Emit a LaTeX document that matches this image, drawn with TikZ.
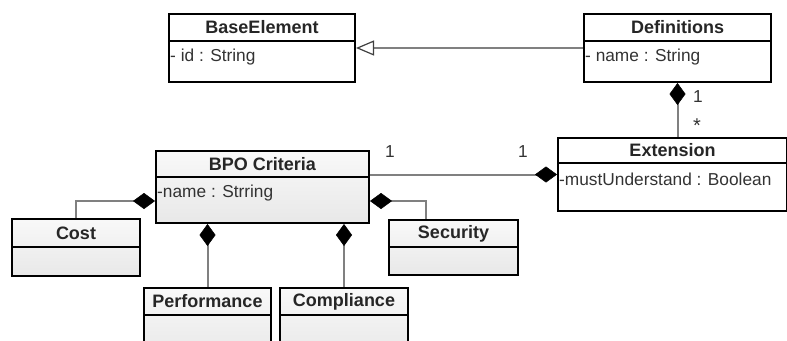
\documentclass[tikz,border=0pt]{standalone}
\usepackage{fontspec}
\setmainfont{Liberation Sans}
\usetikzlibrary{arrows.meta}
\newcommand\UMLcls[9]{%
  \node[#2, minimum width=#5pt, minimum height=#6pt] (#1) at (#3,#4) {};
  \draw[line width=2pt] ([yshift=-#7pt]#1.north west) -- ([yshift=-#7pt]#1.north east);
  \node[hdr] at ([yshift=-#7pt/2-0.5pt]#1.north) {#8};
  \node[attr] at ([yshift=-#7pt-16.5pt, xshift=2pt]#1.north west) {#9};
}
\begin{document}
\begin{tikzpicture}[x=1pt,y=-1pt,
  cls/.style={draw=black, line width=2pt, fill=white, anchor=north west, inner sep=0pt},
  gcls/.style={cls, top color=gray!5, bottom color=gray!18},
  hdr/.style={font=\bfseries\fontsize{18}{21}\selectfont, text=black!85, inner sep=0pt},
  attr/.style={font=\fontsize{17.3}{20}\selectfont, text=black!80, anchor=west, inner sep=0pt},
  lbl/.style={font=\fontsize{17.3}{20}\selectfont, text=black!80, anchor=base, inner sep=0pt},
  conn/.style={draw=gray, line width=2pt},
  compo/.style={conn, {Diamond[length=22pt,width=16pt,color=black,line width=0.5pt]}-},
  inh/.style={conn, -{Triangle[open,length=18pt,width=15pt,color=black!75,fill=white,line width=1.2pt]}}]
\useasboundingbox (0,0) rectangle (787,340);
\clip (0,0) rectangle (787,340);
\UMLcls{be}{cls}{168}{13}{186}{68}{28}{BaseElement}{- id : String}
\UMLcls{def}{cls}{583}{13}{187}{68}{28}{Definitions}{- name : String}
\UMLcls{ext}{cls}{557}{137}{229}{73}{26}{Extension}{-mustUnderstand : Boolean}
\UMLcls{bpo}{gcls}{155}{150}{213}{72}{27}{BPO Criteria}{-name : Strring}
\UMLcls{cost}{gcls}{11}{218}{128}{57}{29}{Cost}{}
\UMLcls{sec}{gcls}{388}{219}{129}{55}{28}{Security}{}
\UMLcls{perf}{gcls}{143}{287}{127}{70}{28}{Performance}{}
\UMLcls{cmpl}{gcls}{279}{287}{128}{70}{28}{Compliance}{}
% connectors
\draw[inh] (def.west) -- (be.east);
\draw[compo] (def.south) -- (def.south |- ext.north);
\draw[compo] (ext.west) -- (ext.west -| bpo.east);
\draw[compo] ([yshift=-51pt]bpo.north west) -| (cost.north);
\draw[compo] ([yshift=-51pt]bpo.north east) -| ([xshift=38pt]sec.north west);
\draw[compo] (perf.north |- bpo.south) -- (perf.north);
\draw[compo] (cmpl.north |- bpo.south) -- (cmpl.north);
% multiplicities
\node[lbl] (m1) at (698,102) {1};
\node[lbl, font=\fontsize{20}{22}\selectfont] (m2) at (697,132) {*};
\node[lbl] (m3) at (390,157) {1};
\node[lbl] (m4) at (523,157) {1};
\end{tikzpicture}
\end{document}
